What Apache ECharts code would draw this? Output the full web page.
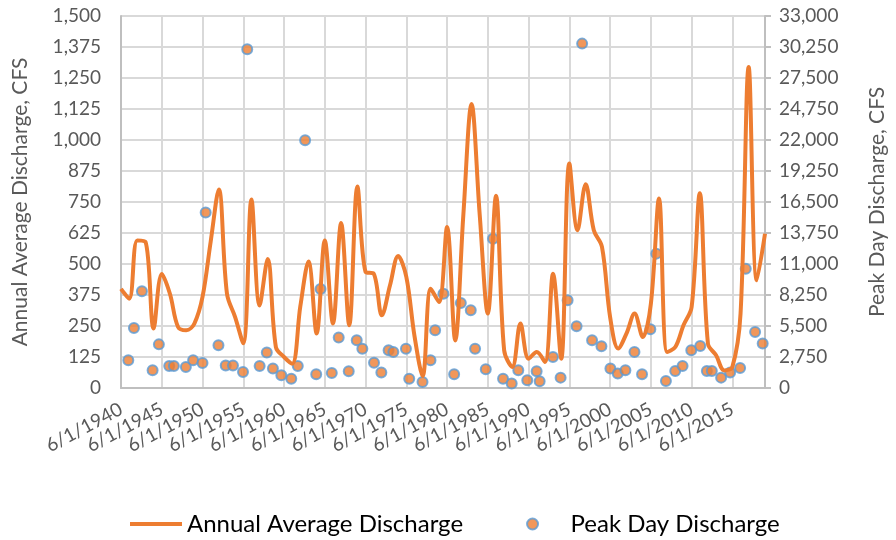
<!DOCTYPE html>
<html>
<head>
<meta charset="utf-8">
<title>Discharge</title>
<script src="https://cdn.jsdelivr.net/npm/echarts@6/dist/echarts.min.js"></script>
<style>
    html, body { margin: 0; padding: 0; background: #fff; }
    #mains { width: 896px; height: 540px; }
</style>
</head>
<body>
<div id="mains"></div>
<script>
    // annual average discharge, one value per year (plotted on 6/1 of each year)
    var years = [1940, 1941, 1942, 1943, 1944, 1945, 1946, 1947, 1948, 1949,
        1950, 1951, 1952, 1953, 1954, 1955, 1956, 1957, 1958, 1959,
        1960, 1961, 1962, 1963, 1964, 1965, 1966, 1967, 1968, 1969,
        1970, 1971, 1972, 1973, 1974, 1975, 1976, 1977, 1978, 1979,
        1980, 1981, 1982, 1983, 1984, 1985, 1986, 1987, 1988, 1989,
        1990, 1991, 1992, 1993, 1994, 1995, 1996, 1997, 1998, 1999,
        2000, 2001, 2002, 2003, 2004, 2005, 2006, 2007, 2008, 2009,
        2010, 2011, 2012, 2013, 2014, 2015, 2016, 2017, 2018, 2019];
    var avgDischarge = [400, 360, 595, 590, 240, 460, 380, 246, 233, 260,
        367, 590, 800, 380, 286, 180, 760, 333, 520, 165,
        125, 98, 330, 510, 220, 595, 260, 665, 253, 812,
        468, 461, 293, 414, 532, 448, 210, 48, 400, 347,
        649, 192, 700, 1145, 700, 300, 775, 152, 85, 260,
        118, 145, 105, 461, 118, 905, 636, 822, 636, 569,
        286, 159, 219, 300, 206, 340, 764, 145, 165, 253,
        327, 785, 179, 132, 71, 85, 300, 1294, 434, 622];

    // peak day discharge, date of the peak as a decimal year
    var peakDates = [1941.31, 1942.00, 1942.98, 1944.29, 1945.06, 1946.33, 1946.90, 1948.37, 1949.26, 1950.41,
        1950.80, 1952.37, 1953.26, 1954.15, 1955.38, 1955.90, 1957.42, 1958.30, 1959.05, 1960.08,
        1961.30, 1962.10, 1963.00, 1964.36, 1964.89, 1966.27, 1967.12, 1968.35, 1969.33, 1970.02,
        1971.45, 1972.35, 1973.24, 1973.82, 1975.37, 1975.77, 1977.40, 1978.38, 1978.95, 1979.97,
        1981.28, 1982.10, 1983.32, 1983.85, 1985.16, 1986.05, 1987.28, 1988.34, 1989.15, 1990.25,
        1991.40, 1991.77, 1993.40, 1994.34, 1995.20, 1996.30, 1996.98, 1998.20, 1999.35, 2000.45,
        2001.35, 2002.29, 2003.40, 2004.33, 2005.35, 2006.08, 2007.26, 2008.40, 2009.30, 2010.37,
        2011.47, 2012.28, 2012.89, 2014.03, 2015.14, 2016.36, 2017.05, 2018.20, 2019.13];
    var peakDischarge = [2460, 5320, 8580, 1570, 3870, 1950, 1950, 1860, 2460, 2220,
        15560, 3790, 2000, 2000, 1420, 30040, 1950, 3140, 1720, 1130,
        830, 1950, 21970, 1220, 8780, 1330, 4470, 1480, 4230, 3490,
        2250, 1370, 3340, 3190, 3490, 830, 530, 2460, 5120, 8370,
        1220, 7540, 6890, 3490, 1660, 13250, 830, 390, 1570, 680,
        1480, 590, 2750, 920, 7780, 5470, 30550, 4230, 3700, 1720,
        1280, 1570, 3190, 1220, 5210, 11920, 620, 1510, 1950, 3340,
        3730, 1510, 1510, 920, 1370, 1770, 10580, 4970, 3940];

    var leftTicks = { min: 0, max: 1500, step: 125 };
    var rightTicks = { min: 0, max: 33000, step: 2750 };

    // x axis counts years from 6/1/1940
    var startYear = 1940;
    var juneFirst = 151 / 365;

    var lineData = [];
    for (var i = 0; i < years.length; i++) {
        lineData.push([years[i] - startYear, avgDischarge[i]]);
    }
    var peakData = [];
    for (var j = 0; j < peakDates.length; j++) {
        peakData.push([peakDates[j] - startYear - juneFirst, peakDischarge[j]]);
    }

    var font = 'Lato, "Open Sans", sans-serif';
    var gray = '#595959';

    function commas(v) {
        return v.toLocaleString('en-US');
    }

    var myChart = echarts.init(document.getElementById('mains'));
    myChart.setOption({
        animation: false,
        textStyle: { fontFamily: font },
        grid: { left: 121, right: 129, top: 16, bottom: 152 },
        legend: {
            left: 125,
            top: 507,
            itemWidth: 52,
            itemHeight: 11,
            itemGap: 63,
            textStyle: { fontSize: 24, color: '#000', fontFamily: font },
            data: [
                { name: 'Annual Average Discharge', icon: 'path://M0 0H52V4H0Z' },
                { name: 'Peak Day Discharge', textStyle: { padding: [0, 0, 0, 7] } }
            ]
        },
        xAxis: {
            type: 'value',
            min: 0,
            max: years[years.length - 1] - startYear,
            interval: 5,
            axisLine: { lineStyle: { color: '#bfbfbf', width: 2 } },
            axisTick: { show: false },
            splitLine: { lineStyle: { color: '#d9d9d9', width: 2 } },
            axisLabel: {
                rotate: 28,
                margin: 20,
                fontSize: 19,
                color: gray,
                formatter: function (v) {
                    if (v % 5 !== 0 || v > 75) return '';
                    return '6/1/' + (startYear + v);
                }
            }
        },
        yAxis: [
            {
                type: 'value',
                min: leftTicks.min,
                max: leftTicks.max,
                interval: leftTicks.step,
                name: 'Annual Average Discharge, CFS',
                nameLocation: 'middle',
                nameRotate: 90,
                nameGap: 90,
                nameTextStyle: { fontSize: 21, color: gray },
                axisLine: { show: true, lineStyle: { color: '#bfbfbf', width: 2 } },
                axisTick: { show: false },
                splitLine: { lineStyle: { color: '#d9d9d9', width: 2 } },
                axisLabel: { fontSize: 19, color: gray, margin: 20, formatter: commas }
            },
            {
                type: 'value',
                min: rightTicks.min,
                max: rightTicks.max,
                interval: rightTicks.step,
                name: 'Peak Day Discharge, CFS',
                nameLocation: 'middle',
                nameRotate: 90,
                nameGap: 102,
                nameTextStyle: { fontSize: 21, color: gray },
                axisLine: { show: true, lineStyle: { color: '#bfbfbf', width: 2 } },
                axisTick: { show: true, length: 6, lineStyle: { color: '#bfbfbf', width: 2 } },
                splitLine: { show: false },
                axisLabel: { fontSize: 19, color: gray, margin: 14, formatter: commas }
            }
        ],
        series: [
            {
                name: 'Annual Average Discharge',
                type: 'line',
                yAxisIndex: 0,
                smooth: 0.35,
                symbol: 'none',
                lineStyle: { color: '#ed7d31', width: 4 },
                itemStyle: { color: '#ed7d31' },
                data: lineData
            },
            {
                name: 'Peak Day Discharge',
                type: 'scatter',
                yAxisIndex: 1,
                symbolSize: 10,
                itemStyle: { color: '#ed7d31', borderColor: '#5b9bd5', borderWidth: 2 },
                data: peakData
            }
        ]
    });
</script>
</body>
</html>
